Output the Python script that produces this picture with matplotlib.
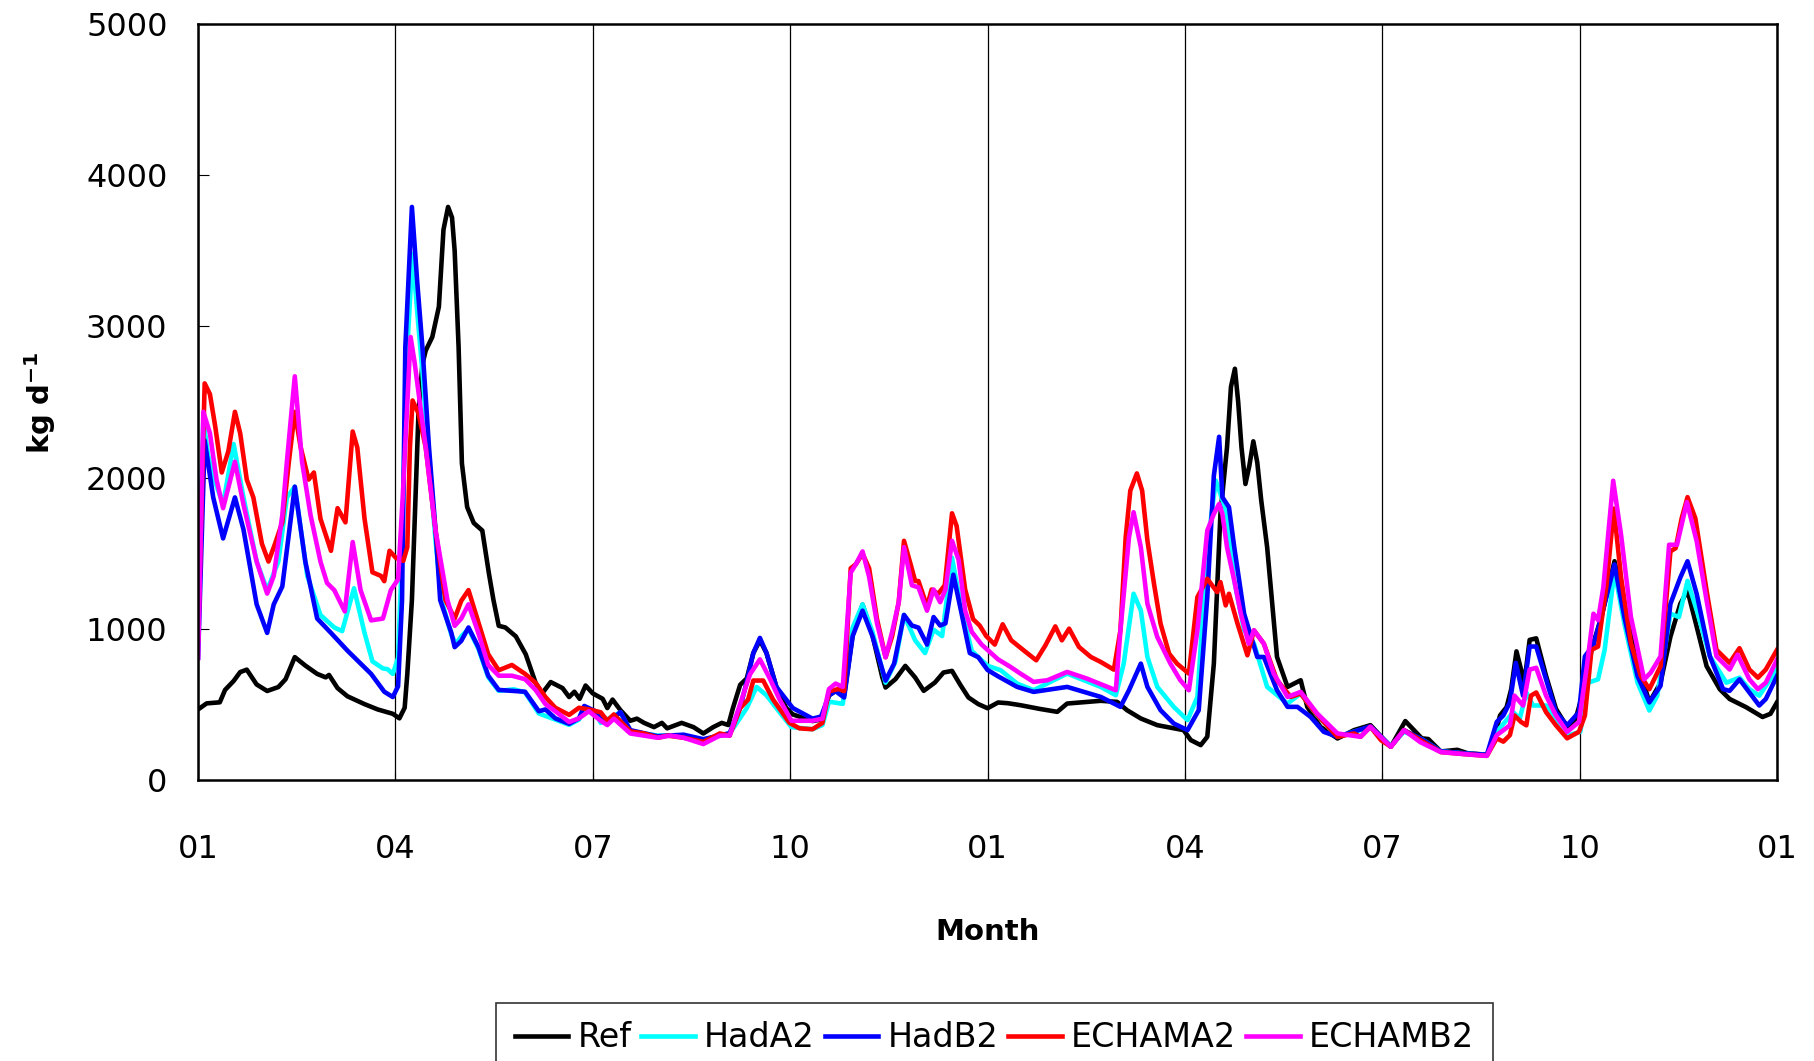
import matplotlib
matplotlib.use("Agg")
import matplotlib.pyplot as plt

# month offsets from Jan 1 of year one (0..24) and daily load
ref_m = [0.0, 0.13, 0.33, 0.41, 0.54, 0.64, 0.74, 0.89, 1.05, 1.22, 1.33, 1.47, 1.63, 1.81, 1.94, 1.99,
         2.12, 2.27, 2.53, 2.73, 2.96, 3.06, 3.14, 3.18, 3.25, 3.30, 3.35, 3.41, 3.46, 3.56, 3.66, 3.73,
         3.80, 3.86, 3.90, 3.96, 4.01, 4.09, 4.19, 4.32, 4.42, 4.49, 4.57, 4.67, 4.83, 4.98, 5.13, 5.23,
         5.36, 5.54, 5.64, 5.72, 5.80, 5.89, 6.0, 6.15, 6.22, 6.30, 6.42, 6.57, 6.67, 6.78, 6.93, 7.05,
         7.13, 7.35, 7.53, 7.68, 7.83, 7.96, 8.06, 8.13, 8.24, 8.34, 8.44, 8.54, 8.64, 8.79, 8.94, 9.04,
         9.34, 9.47, 9.59, 9.69, 9.82, 9.95, 10.10, 10.25, 10.40, 10.45, 10.60, 10.75, 10.90, 11.03,
         11.20, 11.33, 11.46, 11.58, 11.71, 11.86, 12.0, 12.16, 12.31, 12.50, 12.80, 13.06, 13.21, 13.72,
         13.97, 14.12, 14.33, 14.58, 14.98, 15.09, 15.24, 15.34, 15.44, 15.54, 15.64, 15.70, 15.76, 15.81,
         15.86, 15.92, 15.98, 16.04, 16.10, 16.16, 16.25, 16.40, 16.56, 16.66, 16.76, 16.86, 17.06, 17.32,
         17.57, 17.82, 18.13, 18.35, 18.60, 18.70, 18.89, 19.14, 19.29, 19.59, 19.69, 19.79, 19.89, 19.96,
         20.04, 20.16, 20.24, 20.34, 20.49, 20.64, 20.81, 20.94, 21.01, 21.08, 21.18, 21.33, 21.53, 21.68,
         21.88, 22.06, 22.23, 22.38, 22.53, 22.64, 22.78, 22.93, 23.13, 23.28, 23.53, 23.78, 23.90, 24.0]
ref_v = [467, 507, 514, 596, 655, 714, 730, 632, 589, 615, 667, 813, 757, 702, 679, 695,
         608, 554, 502, 467, 438, 408, 478, 700, 1190, 1800, 2425, 2750, 2840, 2930, 3130, 3640,
         3790, 3720, 3500, 2862, 2095, 1805, 1700, 1650, 1368, 1190, 1020, 1009, 950, 832, 643, 573,
         648, 608, 549, 584, 537, 625, 573, 537, 476, 532, 462, 392, 406, 378, 350, 378,
         342, 378, 350, 308, 350, 378, 364, 476, 630, 672, 840, 924, 840, 616, 476, 434,
         390, 400, 560, 590, 560, 960, 1160, 960, 680, 612, 667, 755, 678, 590,
         645, 711, 722, 634, 546, 502, 475, 513, 508, 495, 470, 451, 506, 524,
         517, 462, 407, 363, 330, 264, 231, 286, 770, 1760, 2200, 2600, 2720, 2500,
         2200, 1958, 2080, 2240, 2100, 1850, 1540, 814, 616, 638, 660, 484, 352, 275,
         330, 363, 220, 390, 276, 271, 189, 200, 178, 167, 254, 427, 482, 601,
         851, 644, 927, 937, 688, 471, 351, 406, 514, 601, 861, 1078, 1447, 1144,
         775, 514, 644, 948, 1165, 1252, 1013, 753, 601, 536, 482, 417, 438, 514]

hada2_m = [0.0, 0.04, 0.08, 0.15, 0.23, 0.38, 0.54, 0.69, 0.89, 1.05, 1.22, 1.35, 1.47, 1.66, 1.86,
           2.07, 2.19, 2.37, 2.53, 2.65, 2.81, 2.88, 2.96, 3.04, 3.10, 3.16, 3.26, 3.33, 3.41, 3.51,
           3.61, 3.70, 3.85, 3.92, 4.0, 4.11, 4.26, 4.41, 4.57, 4.80, 4.97, 5.18, 5.43, 5.64, 5.79,
           5.87, 6.04, 6.12, 6.42, 6.57, 6.98, 7.38, 7.68, 8.08, 8.34, 8.49, 8.64, 8.84, 9.02, 9.34,
           9.49, 9.59, 9.80, 9.95, 10.10, 10.25, 10.45, 10.60, 10.73, 10.90, 11.05, 11.18, 11.31,
           11.46, 11.61, 11.76, 12.0, 12.20, 12.45, 12.70, 13.21, 13.72, 13.95, 14.07, 14.22, 14.33,
           14.43, 14.58, 14.83, 15.04, 15.19, 15.34, 15.47, 15.54, 15.64, 15.75, 15.90, 16.05, 16.25,
           16.56, 16.76, 17.01, 17.32, 17.57, 17.82, 18.13, 18.33, 18.60, 18.89, 19.29, 19.59, 19.74,
           19.99, 20.09, 20.19, 20.29, 20.49, 20.69, 20.84, 21.01, 21.13, 21.28, 21.38, 21.53, 21.68,
           21.88, 22.06, 22.18, 22.38, 22.51, 22.64, 22.78, 22.98, 23.23, 23.43, 23.58, 23.73, 24.0]
hada2_v = [900, 1800, 2387, 2150, 2010, 1822, 2222, 1869, 1445, 1256, 1445, 1869, 1940, 1350, 1091,
           1009, 985, 1268, 973, 785, 738, 733, 702, 808, 1500, 2700, 3480, 3100, 2700, 2100,
           1580, 1190, 960, 900, 950, 1000, 870, 680, 590, 600, 580, 440, 400, 365, 400,
           480, 450, 378, 448, 322, 294, 294, 266, 308, 476, 616, 560, 448, 350, 336,
           364, 518, 504, 1008, 1162, 980, 644, 784, 1092, 924, 840, 994, 952,
           1470, 1120, 854, 756, 726, 638, 594, 704, 616, 561, 770, 1232, 1122,
           814, 616, 484, 396, 550, 1540, 1980, 1892, 1760, 1320, 990, 902, 616,
           506, 572, 429, 286, 320, 350, 225, 320, 270, 190, 175, 165, 319,
           449, 406, 579, 493, 493, 341, 297, 319, 644, 666, 861, 1382, 1035,
           644, 460, 558, 1100, 1078, 1317, 1122, 818, 644, 677, 601, 558, 731]

hadb2_m = [0.0, 0.10, 0.23, 0.38, 0.56, 0.69, 0.89, 1.05, 1.15, 1.28, 1.47, 1.63, 1.81, 2.02, 2.27,
           2.63, 2.83, 2.96, 3.04, 3.10, 3.15, 3.25, 3.33, 3.41, 3.51, 3.61, 3.68, 3.85,
           3.90, 4.0, 4.11, 4.26, 4.41, 4.57, 4.97, 5.18, 5.28, 5.43, 5.64, 5.79, 5.87, 6.04, 6.25,
           6.42, 6.57, 6.98, 7.38, 7.68, 8.08, 8.24, 8.34, 8.44, 8.54, 8.64, 8.79, 9.04, 9.34, 9.47,
           9.59, 9.69, 9.82, 9.95, 10.10, 10.25, 10.45, 10.58, 10.73, 10.85, 10.95, 11.08, 11.18,
           11.28, 11.36, 11.48, 11.61, 11.73, 11.86, 12.0, 12.16, 12.45, 12.70, 13.21, 13.72, 14.02,
           14.15, 14.33, 14.43, 14.63, 14.83, 15.04, 15.21, 15.34, 15.44, 15.52, 15.57, 15.67, 15.75,
           15.90, 16.10, 16.20, 16.40, 16.56, 16.71, 16.91, 17.11, 17.32, 17.57, 17.82, 18.13, 18.33,
           18.60, 18.89, 19.29, 19.59, 19.74, 19.84, 19.94, 20.03, 20.14, 20.24, 20.34, 20.49, 20.64,
           20.81, 20.99, 21.08, 21.21, 21.33, 21.53, 21.68, 21.88, 22.06, 22.23, 22.38, 22.53, 22.64,
           22.78, 22.98, 23.18, 23.28, 23.43, 23.58, 23.73, 23.83, 24.0]
hadb2_v = [808, 2246, 1869, 1598, 1869, 1657, 1162, 973, 1162, 1280, 1940, 1445, 1068, 973, 856,
           702, 584, 549, 620, 1190, 2862, 3790, 3300, 2862, 2200, 1650, 1190, 973,
           879, 920, 1009, 879, 690, 596, 584, 455, 467, 408, 372, 408, 490, 455, 384,
           450, 330, 290, 300, 270, 310, 480, 650, 840, 940, 840, 616, 476, 406, 420,
           560, 588, 546, 952, 1120, 952, 658, 770, 1092, 1022, 1008, 896, 1078,
           1022, 1036, 1358, 1092, 840, 812, 728, 686, 616, 583, 616, 550, 484,
           594, 770, 616, 462, 374, 330, 462, 1210, 2013, 2270, 1870, 1804, 1540,
           1100, 814, 814, 594, 484, 484, 418, 319, 286, 320, 355, 222, 330,
           270, 190, 175, 167, 384, 427, 514, 775, 558, 883, 883, 666, 449,
           362, 449, 818, 894, 1078, 1426, 1078, 688, 514, 623, 1165, 1339, 1447,
           1230, 818, 601, 590, 666, 579, 493, 536, 688]

echama2_m = [0.0, 0.10, 0.18, 0.26, 0.36, 0.46, 0.56, 0.64, 0.74, 0.84, 0.97, 1.07, 1.17, 1.28, 1.38,
             1.47, 1.56, 1.68, 1.76, 1.86, 2.02, 2.12, 2.24, 2.35, 2.42, 2.53, 2.65, 2.78, 2.83, 2.91,
             3.01, 3.12, 3.18, 3.22, 3.26, 3.35, 3.46, 3.61, 3.76, 3.90, 4.0, 4.11, 4.26, 4.41, 4.57, 4.77,
             4.97, 5.13, 5.28, 5.43, 5.64, 5.79, 5.94, 6.12, 6.22, 6.32, 6.57, 6.78, 7.00, 7.13, 7.38,
             7.68, 7.93, 8.08, 8.24, 8.36, 8.44, 8.59, 8.74, 8.99, 9.14, 9.34, 9.49, 9.59, 9.74, 9.82,
             9.92, 10.0, 10.10, 10.20, 10.32, 10.45, 10.55, 10.65, 10.73, 10.83, 10.90, 10.95, 11.08,
             11.15, 11.25, 11.35, 11.46, 11.53, 11.66, 11.78, 11.88, 11.98, 12.11, 12.23, 12.36, 12.58,
             12.74, 12.88, 13.03, 13.13, 13.24, 13.39, 13.57, 13.72, 13.92, 14.02, 14.10, 14.17, 14.27,
             14.35, 14.43, 14.53, 14.63, 14.76, 14.88, 15.06, 15.19, 15.34, 15.49, 15.54, 15.62, 15.67,
             15.80, 15.95, 16.05, 16.20, 16.40, 16.61, 16.76, 16.91, 17.06, 17.32, 17.57, 17.67, 17.82,
             17.98, 18.13, 18.33, 18.58, 18.89, 19.29, 19.59, 19.74, 19.84, 19.94, 20.01, 20.11, 20.19,
             20.26, 20.34, 20.49, 20.64, 20.81, 20.99, 21.08, 21.18, 21.28, 21.41, 21.52, 21.63, 21.78,
             21.93, 22.06, 22.23, 22.38, 22.46, 22.55, 22.64, 22.76, 22.93, 23.08, 23.28, 23.43, 23.58,
             23.71, 23.83, 24.0]
echama2_v = [926, 2623, 2552, 2340, 2034, 2175, 2435, 2293, 1987, 1869, 1563, 1445, 1563, 1704, 2105,
             2435, 2199, 1987, 2034, 1728, 1516, 1798, 1704, 2305, 2199, 1728, 1374, 1350, 1315, 1516,
             1468, 1450, 1540, 2200, 2510, 2425, 2200, 1650, 1190, 1068, 1185, 1256, 1044, 832, 726, 761,
             702, 643, 549, 478, 431, 478, 467, 448, 392, 434, 322, 308, 280, 294, 280,
             252, 308, 294, 476, 532, 658, 658, 532, 378, 342, 336, 378, 588, 602, 588,
             1400, 1428, 1498, 1400, 1064, 812, 952, 1176, 1582, 1428, 1316, 1316, 1148,
             1260, 1232, 1288, 1764, 1680, 1260, 1064, 1022, 952, 896, 1030, 924, 847,
             792, 891, 1016, 924, 1001, 880, 814, 781, 730, 990, 1606, 1914, 2028,
             1914, 1584, 1298, 1034, 836, 770, 704, 1210, 1331, 1243, 1309, 1155, 1232,
             1034, 825, 990, 902, 660, 550, 572, 484, 407, 286, 308, 286, 352,
             264, 220, 330, 264, 185, 170, 160, 276, 254, 297, 427, 384, 362,
             558, 579, 449, 362, 276, 319, 427, 861, 883, 1295, 1795, 1339, 905,
             688, 601, 753, 1512, 1534, 1729, 1871, 1729, 1252, 861, 775, 872, 731,
             677, 731, 861]

echamb2_m = [0.0, 0.08, 0.18, 0.28, 0.38, 0.56, 0.69, 0.89, 1.05, 1.15, 1.28, 1.35, 1.47, 1.58, 1.71,
             1.86, 1.96, 2.07, 2.23, 2.35, 2.47, 2.63, 2.81, 2.93, 3.04, 3.11, 3.23, 3.29, 3.46, 3.61,
             3.79, 3.90, 4.0, 4.11, 4.26, 4.41, 4.57, 4.77, 4.97, 5.13, 5.28, 5.43, 5.64, 5.79, 5.94,
             6.12, 6.22, 6.32, 6.57, 6.98, 7.18, 7.38, 7.68, 7.93, 8.08, 8.24, 8.39, 8.54, 8.69, 8.84,
             9.02, 9.34, 9.49, 9.59, 9.69, 9.80, 9.92, 10.0, 10.10, 10.20, 10.32, 10.45, 10.55, 10.65,
             10.73, 10.85, 10.95, 11.08, 11.18, 11.28, 11.36, 11.46, 11.56, 11.66, 11.76, 11.91, 12.16,
             12.35, 12.50, 12.70, 12.91, 13.21, 13.51, 13.95, 14.02, 14.15, 14.22, 14.33, 14.43, 14.58,
             14.78, 14.93, 15.06, 15.19, 15.34, 15.44, 15.52, 15.57, 15.64, 15.75, 15.85, 15.97, 16.05,
             16.20, 16.35, 16.56, 16.76, 17.01, 17.32, 17.67, 17.82, 18.13, 18.33, 18.58, 18.89, 19.29,
             19.59, 19.74, 19.94, 20.01, 20.14, 20.24, 20.34, 20.49, 20.64, 20.81, 20.99, 21.11, 21.21,
             21.28, 21.36, 21.51, 21.63, 21.78, 21.98, 22.08, 22.23, 22.36, 22.48, 22.63, 22.78, 22.93,
             23.08, 23.28, 23.40, 23.58, 23.71, 23.83, 24.0]
echamb2_v = [808, 2435, 2293, 1987, 1798, 2105, 1822, 1445, 1233, 1350, 1751, 2105, 2670, 2105, 1751,
             1445, 1303, 1256, 1115, 1574, 1256, 1056, 1068, 1256, 1327, 1869, 2930, 2765, 2200, 1650,
             1190, 1020, 1068, 1162, 973, 761, 690, 690, 667, 596, 502, 455, 384, 408, 455,
             392, 364, 406, 308, 280, 294, 280, 238, 294, 294, 504, 700, 798, 672, 532,
             392, 392, 406, 602, 638, 616, 1372, 1428, 1512, 1344, 1036, 812, 980, 1176,
             1540, 1288, 1274, 1120, 1260, 1176, 1260, 1582, 1456, 1120, 980, 896, 798,
             748, 704, 649, 660, 715, 671, 594, 990, 1606, 1771, 1540, 1166, 946,
             770, 660, 594, 990, 1650, 1760, 1826, 1760, 1540, 1320, 1100, 902, 990,
             902, 704, 550, 583, 440, 308, 286, 352, 220, 330, 250, 185, 170,
             160, 297, 362, 558, 493, 731, 742, 558, 427, 319, 384, 753, 1100,
             1057, 1274, 1979, 1621, 1078, 666, 710, 818, 1556, 1556, 1838, 1578, 1187,
             818, 731, 829, 666, 601, 644, 796]

series_names = ['Ref', 'HadA2', 'HadB2', 'ECHAMA2', 'ECHAMB2']
series_colors = ['black', 'cyan', 'blue', 'red', 'magenta']
tick_months = [0, 3, 6, 9, 12, 15, 18, 21, 24]
tick_labels = ['01', '04', '07', '10', '01', '04', '07', '10', '01']

plt.rcParams['font.family'] = ['DejaVu Sans']
plt.rcParams['mathtext.fontset'] = 'dejavusans'

fig = plt.figure(figsize=(18.14, 10.61), dpi=100)
ax = fig.add_axes([0.1092, 0.2648, 0.8704, 0.7126])

data = [(ref_m, ref_v), (hada2_m, hada2_v), (hadb2_m, hadb2_v),
        (echama2_m, echama2_v), (echamb2_m, echamb2_v)]
for (m, v), name, col in zip(data, series_names, series_colors):
    ax.plot(m, v, color=col, lw=3.3, label=name, solid_joinstyle='round')

ax.set_xlim(0, 24)
ax.set_ylim(0, 5000)
ax.set_xticks(tick_months)
ax.set_xticklabels(tick_labels)
ax.set_yticks(range(0, 5001, 1000))
ax.tick_params(axis='x', direction='in', length=5, pad=39, labelsize=23)
ax.tick_params(axis='y', direction='in', length=8, pad=22, labelsize=23)
ax.grid(axis='x', color='black', lw=0.9)
for sp in ax.spines.values():
    sp.set_linewidth(1.8)

fig.text(0.5444, 0.122, 'Month', ha='center', va='center', fontsize=21, fontweight='bold')
fig.text(0.022, 0.62, r'$\mathbf{kg\ d^{-1}}$', ha='center', va='center', rotation=90, fontsize=21)

# legend sits partly below the figure edge, as in the source
leg = fig.legend(loc='upper center', bbox_to_anchor=(0.5482, 0.0547), ncol=5, fontsize=24,
                 frameon=True, fancybox=False, edgecolor='black', handlelength=1.6,
                 handletextpad=0.28, columnspacing=0.3, borderpad=0.55, borderaxespad=0)
leg.get_frame().set_linewidth(1.2)

fig.savefig('out.png', dpi=100)
